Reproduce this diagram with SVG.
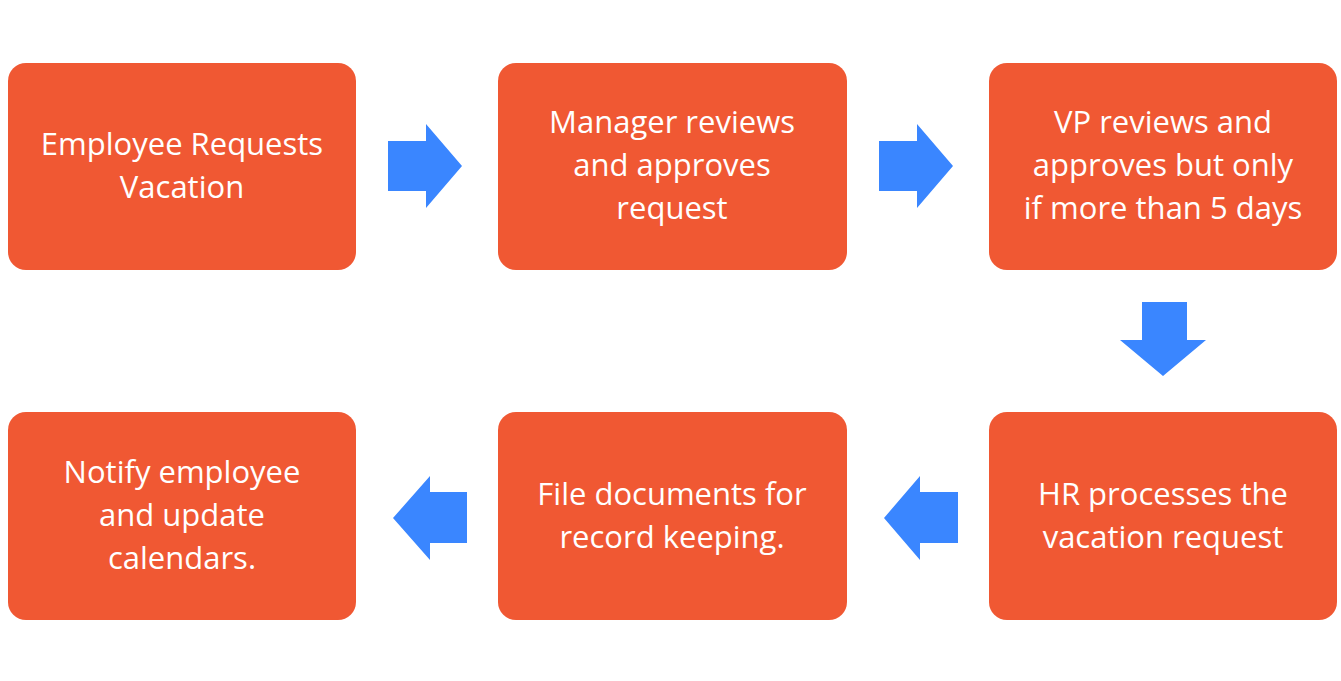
<svg xmlns="http://www.w3.org/2000/svg" width="1341" height="681" viewBox="0 0 1341 681">
<style>
.box{fill:#F05833}
.t{fill:#fff;font-family:"Open Sans","Liberation Sans",sans-serif;font-size:31px;text-anchor:middle}
.ar{fill:#3A86FF}
</style>
<rect width="1341" height="681" fill="#fff"/>
<g id="n1"><rect class="box" x="8" y="63" width="348" height="207" rx="18"/><text class="t"><tspan x="182" y="155">Employee Requests</tspan><tspan x="182" y="198">Vacation</tspan></text></g>
<g id="n2"><rect class="box" x="498" y="63" width="349" height="207" rx="18"/><text class="t"><tspan x="672" y="133">Manager reviews</tspan><tspan x="672" y="176">and approves</tspan><tspan x="672" y="219">request</tspan></text></g>
<g id="n3"><rect class="box" x="989" y="63" width="348" height="207" rx="18"/><text class="t"><tspan x="1163" y="133">VP reviews and</tspan><tspan x="1163" y="176">approves but only</tspan><tspan x="1163" y="219">if more than 5 days</tspan></text></g>
<g id="n4"><rect class="box" x="989" y="412" width="348" height="208" rx="18"/><text class="t"><tspan x="1163" y="505">HR processes the</tspan><tspan x="1163" y="548">vacation request</tspan></text></g>
<g id="n5"><rect class="box" x="498" y="412" width="349" height="208" rx="18"/><text class="t"><tspan x="672" y="505">File documents for</tspan><tspan x="672" y="548">record keeping.</tspan></text></g>
<g id="n6"><rect class="box" x="8" y="412" width="348" height="208" rx="18"/><text class="t"><tspan x="182" y="483">Notify employee</tspan><tspan x="182" y="526">and update</tspan><tspan x="182" y="569">calendars.</tspan></text></g>
<g id="connectors">
<polygon class="ar" points="388,141 426,141 426,124 462,166 426,208 426,191 388,191"/>
<polygon class="ar" points="879,141 917,141 917,124 953,166 917,208 917,191 879,191"/>
<polygon class="ar" points="1142,302 1187,302 1187,340 1206,340 1163,376 1120,340 1142,340"/>
<polygon class="ar" points="958,492 920,492 920,476 884,518 920,560 920,543 958,543"/>
<polygon class="ar" points="467,492 430,492 430,476 393,518 430,560 430,543 467,543"/>
</g>
</svg>
